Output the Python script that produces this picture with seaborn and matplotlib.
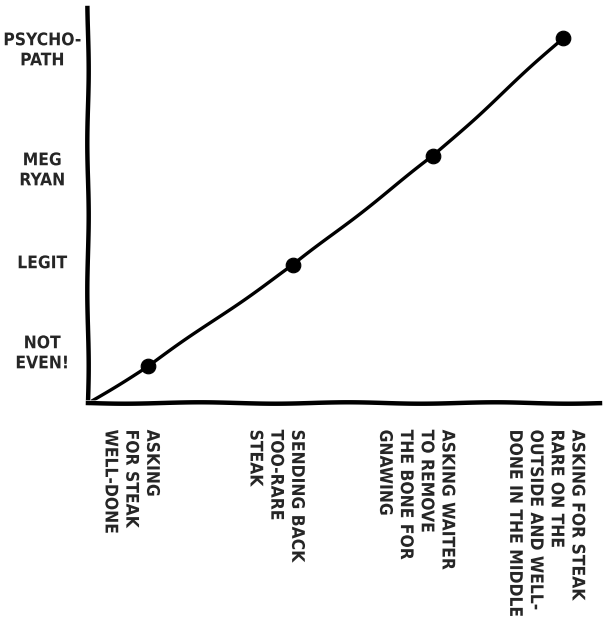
import matplotlib
matplotlib.use('Agg')

import matplotlib.pyplot as plt
import matplotlib.transforms as mtransforms
import seaborn as sns
import pandas as pd

# steak orders along the x axis
stages = ['ASKING\nFOR STEAK\nWELL-DONE',
          'SENDING BACK\nTOO-RARE\nSTEAK',
          'ASKING WAITER\nTO REMOVE\nTHE BONE FOR\nGNAWING',
          'ASKING FOR STEAK\nRARE ON THE\nOUTSIDE AND WELL-\nDONE IN THE MIDDLE']
stage_x = [0.60, 2.05, 3.45, 4.75]
weirdness = [0.37, 1.38, 2.47, 3.65]

# y axis levels
levels = ['NOT\nEVEN!', 'LEGIT', 'MEG\nRYAN', 'PSYCHO-\nPATH']
level_y = [0.53, 1.42, 2.36, 3.56]

def main():
    sns.set_style('white')
    plt.xkcd(scale=0.7, length=150, randomness=1.2)
    plt.rcParams['font.family'] = ['DejaVu Sans']
    plt.rcParams['font.stretch'] = 'condensed'
    plt.rcParams['font.weight'] = 'bold'

    fig = plt.figure(figsize=(6.03, 6.33), dpi=100)
    ax = fig.add_axes([0.146, 0.363, 0.849, 0.624])

    line = pd.DataFrame({'x': [0] + stage_x, 'y': [0] + weirdness})
    pts = pd.DataFrame({'x': stage_x, 'y': weirdness})
    sns.lineplot(data=line, x='x', y='y', color='black', linewidth=2.4, ax=ax)
    sns.scatterplot(data=pts, x='x', y='y', color='black', s=110, edgecolor='black', zorder=5, ax=ax)

    ax.set_xlim(0, 5.12)
    ax.set_ylim(0, 3.95)
    ax.set_xlabel('')
    ax.set_ylabel('')

    for side in ['top', 'right']:
        ax.spines[side].set_visible(False)
    for side in ['left', 'bottom']:
        ax.spines[side].set_linewidth(3.2)
        ax.spines[side].set_color('black')

    ax.set_yticks(level_y)
    ax.set_yticklabels(levels, fontsize=12.5, ha='center', linespacing=1.15)
    ax.set_xticks(stage_x)
    ax.set_xticklabels(stages, fontsize=12.5, rotation=-90, ha='center', va='top',
                       multialignment='left', linespacing=1.2)
    ax.tick_params(axis='both', length=0)
    ax.tick_params(axis='y', pad=33)
    ax.tick_params(axis='x', pad=19)

    shift = mtransforms.ScaledTranslation(-12 / 72, 0, fig.dpi_scale_trans)
    for lab in ax.get_xticklabels():
        lab.set_transform(lab.get_transform() + shift)

    fig.savefig('out.png', dpi=100)

if __name__ == '__main__':
    main()
